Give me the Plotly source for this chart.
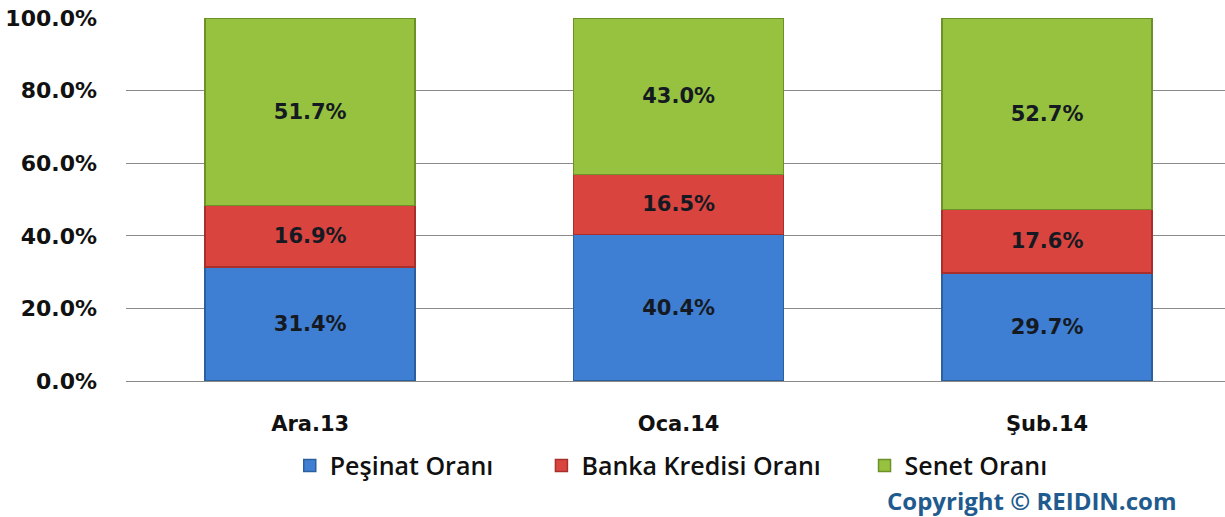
import plotly.graph_objects as go

# values
months = ["Ara.13", "Oca.14", "Şub.14"]
pesinat = [31.4, 40.4, 29.7]
banka = [16.9, 16.5, 17.6]
senet = [51.7, 43.0, 52.7]

series_names = ["Peşinat Oranı", "Banka Kredisi Oranı", "Senet Oranı"]
y_ticks = [0, 20, 40, 60, 80, 100]
y_tick_text = ["0.0%", "20.0%", "40.0%", "60.0%", "80.0%", "100.0%"]

colors = ["#3f7fd3", "#d9443f", "#96c23f"]
edges = ["#2c5f9e", "#a8302c", "#6d9128"]
legend_ids = ["legend", "legend2", "legend3"]

fig = go.Figure()
for i, (name, vals) in enumerate(zip(series_names, [pesinat, banka, senet])):
    fig.add_trace(go.Bar(
        x=months, y=vals, name=name,
        marker=dict(color=colors[i], line=dict(color=edges[i], width=1.5)),
        texttemplate="<b>%{y:.1f}%</b>", textposition="inside", insidetextanchor="middle",
        textfont=dict(family="DejaVu Sans", size=21, color="#151a22"),
        legend=legend_ids[i], showlegend=True,
    ))

legend_font = dict(family="Open Sans", size=25, color="#111111", weight=600)
legend_base = dict(orientation="h", yanchor="middle", xanchor="left",
                   yref="container", y=0.099,
                   font=legend_font, bgcolor="rgba(0,0,0,0)", itemwidth=30)

fig.update_layout(
    barmode="stack",
    bargap=0.43,
    width=1225, height=517,
    margin=dict(l=126, r=0, t=18, b=136),
    plot_bgcolor="white", paper_bgcolor="white",
    showlegend=True,
    font=dict(family="DejaVu Sans", color="#111111"),
    legend=dict(legend_base, x=0.149),
    legend2=dict(legend_base, x=0.378),
    legend3=dict(legend_base, x=0.672),
    xaxis=dict(range=[-0.5, 2.483], showline=False, ticks="",
               tickfont=dict(family="DejaVu Sans", size=21, color="#111111", weight="bold"),
               ticklabelstandoff=28),
    yaxis=dict(range=[0, 100], tickvals=y_ticks, ticktext=y_tick_text,
               showgrid=True, gridcolor="#8a8a8a", gridwidth=1,
               zeroline=True, zerolinecolor="#8a8a8a", zerolinewidth=1,
               tickfont=dict(family="DejaVu Sans", size=22, color="#111111", weight="bold"),
               ticklabelstandoff=28),
    annotations=[dict(text="<b>Copyright © REIDIN.com</b>", xref="paper", yref="paper",
                      x=0.0, y=-0.330, xanchor="left", yanchor="middle", showarrow=False,
                      xshift=759,
                      font=dict(family="Open Sans", size=24, color="#1f5b8e"))],
)

# page body has a default 8px margin, drop it so the figure sits at the corner
fig.write_html("out.html", config={"displayModeBar": False},
               post_script="document.body.style.margin='0';")
